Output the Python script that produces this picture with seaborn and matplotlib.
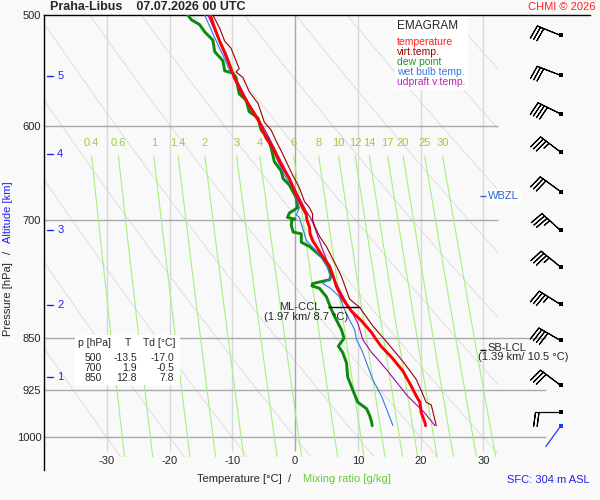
import numpy as np
import pandas as pd
import matplotlib
matplotlib.use('Agg')
import matplotlib.pyplot as plt
import matplotlib.patches as mpatches
import matplotlib.transforms as mtransforms
from matplotlib.ticker import NullLocator
import seaborn as sns

# ---------------------------------------------------------------
# sounding profiles  (pressure hPa, value degC)
# ---------------------------------------------------------------
temp_p = [500, 511, 522, 534, 546, 554, 570, 586, 596, 612, 622, 636, 654, 672, 683, 694, 700,
          708, 716, 724, 731, 743, 755, 768, 781, 797, 813, 826, 842, 850, 861, 879, 897, 919,
          934, 944, 960, 976, 981]
temp_t = [-13.5, -12.8, -12.0, -11.0, -10.2, -9.7, -8.3, -6.7, -5.7, -4.6, -3.5, -2.5, -0.9, 0.2,
          1.0, 1.8, 1.9, 2.3, 2.4, 2.8, 3.4, 4.4, 5.5, 6.1, 6.6, 7.6, 9.0, 10.6, 12.2, 12.8, 13.7,
          15.6, 17.2, 18.5, 19.3, 19.9, 20.1, 20.7, 20.8]

virt_p = [500, 511, 522, 528, 539, 546, 549, 554, 567, 578, 596, 604, 615, 625, 636, 650, 664,
          679, 686, 693, 700, 708, 719, 731, 743, 755, 768, 797, 808, 833, 854, 883, 909, 926,
          944, 948, 960, 981]
virt_t = [-13.1, -12.0, -11.2, -10.2, -9.4, -8.9, -9.4, -8.3, -7.3, -5.9, -4.9, -3.8, -3.0, -2.2,
          -1.4, -0.4, 0.7, 1.5, 2.3, 2.8, 2.8, 3.2, 3.9, 5.0, 5.8, 6.6, 7.4, 8.7, 10.3, 12.4, 14.5,
          17.2, 19.3, 20.1, 20.9, 21.7, 22.0, 22.5]

dew_p = [500, 504, 508, 514, 521, 531, 539, 548, 550, 554, 569, 575, 586, 592, 604, 612, 622,
         636, 646, 654, 661, 675, 686, 692, 697, 699, 700, 706, 714, 716, 726, 731, 744, 756,
         766, 772, 777, 780, 783, 794, 811, 825, 838, 850, 861, 870, 885, 906, 925, 944, 954,
         965, 975, 981]
dew_t = [-17.1, -16.5, -15.2, -14.4, -13.1, -12.8, -11.5, -11.2, -9.9, -9.4, -8.9, -7.8, -7.3,
         -5.9, -5.4, -4.3, -3.8, -3.3, -2.2, -1.9, -0.9, 0.2, 0.4, -0.9, -1.2, 0.0, -0.5, -0.6,
         -0.3, 1.0, 1.0, 2.3, 4.3, 5.3, 5.8, 5.5, 2.8, 2.7, 3.9, 5.0, 5.8, 6.6, 7.4, 7.8, 6.9,
         7.6, 8.2, 8.4, 9.2, 10.0, 11.4, 11.9, 12.2, 12.3]

wet_p = [500, 519, 534, 548, 558, 577, 589, 606, 619, 636, 650, 664, 686, 694, 697, 705, 716,
         724, 734, 748, 758, 770, 777, 782, 794, 811, 825, 838, 852, 866, 885, 910, 935, 960, 981]
wet_t = [-14.4, -12.8, -11.5, -10.4, -9.1, -7.5, -6.2, -4.9, -3.8, -2.7, -1.7, -0.4, 0.7, 0.2,
         0.7, 1.0, 1.5, 1.8, 3.1, 4.7, 5.2, 5.7, 4.4, 5.5, 7.1, 7.9, 8.7, 9.5, 9.8, 10.6, 11.4,
         12.4, 13.8, 14.8, 15.6]

upd_p = [500, 519, 537, 548, 561, 577, 592, 606, 622, 636, 650, 664, 679, 690, 699, 708, 735,
         756, 777, 785, 797, 816, 829, 846, 852, 870, 881, 895, 915, 934, 960, 981]
upd_t = [-13.9, -12.3, -11.0, -10.2, -8.9, -7.5, -5.9, -4.6, -3.3, -2.2, -1.1, -0.1, 1.0, 1.8,
         2.6, 3.1, 4.4, 5.5, 6.6, 7.1, 7.9, 9.2, 10.0, 10.6, 10.8, 12.2, 13.3, 14.6, 16.3, 17.9,
         20.6, 22.3]

# winds (direction deg, speed kt) at the right-hand column
wind_p = [517, 552, 588, 626, 668, 712, 756, 804, 853, 918, 960]
wind_dir = [292, 291, 296, 307, 306, 312, 309, 302, 300, 307, 270]
wind_spd = [30, 30, 40, 35, 30, 35, 35, 35, 40, 30, 20]
sfc_p, sfc_dir = 982, 216

# chart furniture
temp_ticks = [-30, -20, -10, 0, 10, 20, 30]
p_ticks = [500, 600, 700, 850, 925, 1000]
mix_w = [0.4, 0.6, 1, 1.4, 2, 3, 4, 6, 8, 10, 12, 14, 17, 20, 25, 30]
theta_c = list(range(-30, 100, 10))
alt_km = [1, 2, 3, 4, 5]
alt_p = [905, 805, 712, 628, 553]

table_p = [500, 700, 850]
table_t = [-13.5, 1.9, 12.8]
table_td = [-17.0, -0.5, 7.8]

ccl_p, ccl_t, ccl_km = 807, 8.7, 1.97
lcl_p, lcl_t, lcl_km = 866, 10.5, 1.39
wbzl_p = 673

# ---------------------------------------------------------------
sns.set_style('white')
plt.rcParams['font.family'] = ['Liberation Sans', 'DejaVu Sans']

W, H = 600, 500
BG = '#f9f9f9'
T_RIGHT = 32.3
P_BOT = 1033


def fxy(x, y):
    # figure pixel -> figure fraction
    return x / W, 1 - y / H


def dewpoint_of_w(w, p):
    e = w * p / (622.0 + w)
    a = np.log(e / 6.112)
    return 243.5 * a / (17.67 - a)


fig = plt.figure(figsize=(6, 5), dpi=100, facecolor=BG)
ax = fig.add_axes([44 / W, 30 / H, 546 / W, 455 / H])
ax.set_facecolor(BG)
ax.set_yscale('log')

clip = mpatches.Rectangle((-40, 500), T_RIGHT + 40, P_BOT - 500, transform=ax.transData,
                          facecolor='none', edgecolor='none')

# dry adiabats
pp = np.geomspace(500, P_BOT, 80)
for th in theta_c:
    tt = (th + 273.15) * (pp / 1000.0) ** 0.286 - 273.15
    ln, = ax.plot(tt, pp, color='#dadada', lw=0.6, zorder=1)
    ln.set_clip_path(clip)

# temperature gridlines
for t in temp_ticks:
    ax.vlines(t, 500, 1022, color='#a6a6a6' if t == 0 else '#d8d8d8', lw=1, zorder=1.2)
    ax.text(t, 1040, str(t), ha='center', va='center', fontsize=8)

# pressure gridlines
ax.hlines([600, 700], -40, T_RIGHT, color='#a8a8a8', lw=1, zorder=1.3)
ax.hlines([850, 925, 1000], -40, 40.0, color='#a8a8a8', lw=1, zorder=1.3)

# mixing ratio lines
pm = np.geomspace(630, P_BOT, 40)
for w in mix_w:
    tt = dewpoint_of_w(w, pm)
    ln, = ax.plot(tt, pm, color='#a6f07e', lw=0.8, zorder=1.5)
    ln.set_clip_path(clip)
    ax.text(tt[0], 617, f'{w:g}', color='#9ccc3c', ha='center', va='center', fontsize=8)

# profiles
profiles = [
    (dew_p, dew_t, '#0b8a0b', 2.1, 3),
    (wet_p, wet_t, '#3377ee', 0.8, 4),
    (upd_p, upd_t, '#aa00aa', 0.8, 5),
    (virt_p, virt_t, '#990000', 0.8, 6),
    (temp_p, temp_t, '#ff0000', 2.1, 7),
]
for pr, tv, col, lw, z in profiles:
    df = pd.DataFrame({'t': tv, 'p': pr})
    sns.lineplot(data=df, x='t', y='p', orient='y', sort=False, estimator=None,
                 color=col, lw=lw, ax=ax, zorder=z, legend=False)
ax.set_xlabel('')
ax.set_ylabel('')

# wind barbs
barb_x = 42.3
wd = np.deg2rad(wind_dir)
u = -np.array(wind_spd) * np.sin(wd)
v = -np.array(wind_spd) * np.cos(wd)
ax.barbs(np.full(len(wind_p), barb_x), wind_p, u, v, length=6, lw=0.8, color='black',
         flip_barb=True, sizes=dict(height=0.55, spacing=0.14, width=0.15), zorder=8)
ax.scatter(np.full(len(wind_p), barb_x), wind_p, marker='s', s=6, color='black',
           linewidths=0, zorder=9)
sd = np.deg2rad(sfc_dir)
ax.annotate('', xy=(barb_x, sfc_p), xytext=(18 * np.sin(sd), 18 * np.cos(sd)),
            textcoords='offset points',
            arrowprops=dict(arrowstyle='-', color='#1a3cff', lw=0.9, shrinkA=0, shrinkB=0))
ax.scatter([barb_x], [sfc_p], marker='s', s=6, color='#1a3cff', linewidths=0, zorder=9)

# altitude marks
trans = mtransforms.blended_transform_factory(ax.transAxes, ax.transData)
for k, p in zip(alt_km, alt_p):
    ax.plot([0.0055, 0.0165], [p, p], transform=trans, color='#2020ee', lw=1)
    ax.text(0.024, p, str(k), transform=trans, color='#2020ee', va='center', fontsize=8)

# CCL / LCL / WBZL annotations
ax.hlines(ccl_p, ccl_t - 3.4, ccl_t + 1.7, color='black', lw=1, zorder=9)
ax.text(ccl_t - 4.7, ccl_p, 'ML-CCL', ha='right', va='center', fontsize=8, zorder=9)
ax.text(ccl_t - 6.9, ccl_p + 14, f'({ccl_km:.2f} km/ {ccl_t:.1f} °C)', ha='center',
        va='center', fontsize=8, zorder=9)
ax.hlines(lcl_p, 29.4, 30.4, color='black', lw=1, zorder=9)
ax.text(30.7, lcl_p - 3, 'SB-LCL', ha='left', va='center', fontsize=8, zorder=9)
ax.text(29.2, lcl_p + 11, f'({lcl_km:.2f} km/ {lcl_t:.1f} °C)', ha='left', va='center',
        fontsize=8, zorder=9)
ax.hlines(wbzl_p, 29.4, 30.5, color='#3366cc', lw=1, zorder=9)
ax.text(30.8, wbzl_p, 'WBZL', ha='left', va='center', fontsize=8, color='#3366cc', zorder=9,
        bbox=dict(facecolor='white', edgecolor='none', pad=1.2))

# axes cosmetics
ax.set_xlim(-40, 47)
ax.set_ylim(1055, 500)
ax.set_xticks([])
ax.set_yticks(p_ticks)
ax.set_yticklabels([str(p) for p in p_ticks])
ax.yaxis.set_minor_locator(NullLocator())
ax.tick_params(axis='y', length=0, pad=2, labelsize=8)
for s in ['right', 'bottom']:
    ax.spines[s].set_visible(False)
for s in ['left', 'top']:
    ax.spines[s].set_color('black')
    ax.spines[s].set_linewidth(1)

# legend box
fig.patches.append(mpatches.Rectangle(fxy(395, 90), 73 / W, 73 / H, transform=fig.transFigure,
                                      facecolor='white', edgecolor='none', zorder=2))
fig.text(*fxy(397, 26), 'EMAGRAM', fontsize=8.5, va='center', zorder=3)
leg = [('temperature', '#ff1a1a'), ('virt.temp.', '#a00000'), ('dew point', '#1f961f'),
       ('wet bulb temp.', '#3377dd'), ('udpraft v.temp.', '#bb22bb')]
for i, (name, col) in enumerate(leg):
    fig.text(*fxy(397, 42 + 10 * i), name, color=col, fontsize=7.5, va='center', zorder=3)

# table box
fig.patches.append(mpatches.Rectangle(fxy(75, 385), 105 / W, 50 / H, transform=fig.transFigure,
                                      facecolor='white', edgecolor='none', zorder=2))
fig.text(*fxy(78, 343), 'p [hPa]', fontsize=7.5, va='center', zorder=3)
fig.text(*fxy(128, 343), 'T', fontsize=7.5, va='center', ha='center', zorder=3)
fig.text(*fxy(143, 343), 'Td [°C]', fontsize=7.5, va='center', zorder=3)
for i, (p, t, td) in enumerate(zip(table_p, table_t, table_td)):
    y = 358 + 10 * i
    fig.text(*fxy(102, y), str(p), fontsize=7.5, va='center', ha='right', zorder=3)
    fig.text(*fxy(137, y), f'{t:.1f}', fontsize=7.5, va='center', ha='right', zorder=3)
    fig.text(*fxy(174, y), f'{td:.1f}', fontsize=7.5, va='center', ha='right', zorder=3)

# titles and axis captions
fig.text(*fxy(50, 7), 'Praha-Libus    07.07.2026 00 UTC', fontsize=9, weight='bold',
         va='center')
fig.text(*fxy(596, 7), 'CHMI © 2026', fontsize=8, color='#ff2020', va='center', ha='right')
fig.text(*fxy(197, 479), 'Temperature [°C]  /', fontsize=8, va='center')
fig.text(*fxy(303, 479), 'Mixing ratio [g/kg]', fontsize=8, va='center', color='#66cc33')
fig.text(*fxy(590, 480), 'SFC: 304 m ASL', fontsize=8, va='center', ha='right', color='#2020ee')
fig.text(*fxy(8, 262), 'Pressure [hPa]', fontsize=8, rotation=90, va='top', ha='center')
fig.text(*fxy(8, 252), '/', fontsize=8, rotation=90, va='center', ha='center')
fig.text(*fxy(8, 243), 'Altitude [km]', fontsize=8, rotation=90, va='bottom', ha='center',
         color='#2020ee')

fig.savefig('out.png', dpi=100, facecolor=BG)
